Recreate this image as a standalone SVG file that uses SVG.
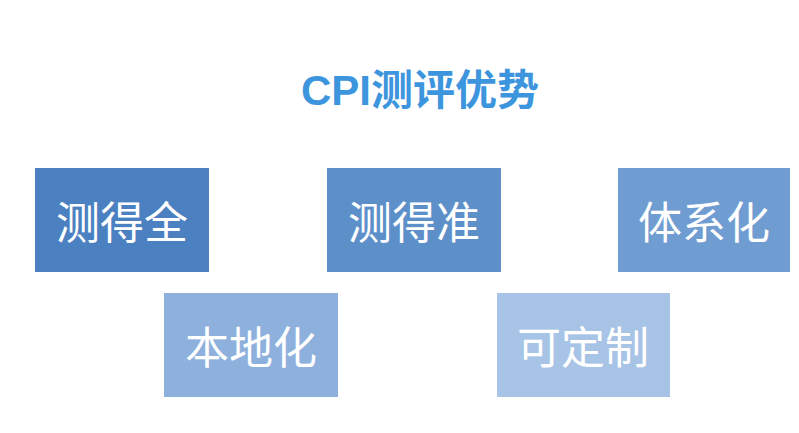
<svg xmlns="http://www.w3.org/2000/svg" width="799" height="433" viewBox="0 0 799 433">
<style>
.t{font-family:"Noto Sans CJK SC","Liberation Sans",sans-serif;fill:#fff;font-size:44px;text-anchor:middle;dominant-baseline:central}
</style>
<rect width="799" height="433" fill="#fff"/>
<text x="420" y="90" font-family="'Liberation Sans','Noto Sans CJK SC',sans-serif" font-weight="bold" font-size="42" fill="#3d96dd" text-anchor="middle" dominant-baseline="central">CPI测评优势</text>
<g id="n1"><rect x="35" y="168" width="174" height="104" fill="#4b80c1"/><text class="t" x="122" y="220">测得全</text></g>
<g id="n2"><rect x="327" y="168" width="174" height="104" fill="#5d8fc9"/><text class="t" x="414" y="220">测得准</text></g>
<g id="n3"><rect x="618" y="168" width="172" height="104" fill="#6f9cd1"/><text class="t" x="704" y="220">体系化</text></g>
<g id="n4"><rect x="164" y="293" width="174" height="104" fill="#8eb0dc"/><text class="t" x="251" y="345">本地化</text></g>
<g id="n5"><rect x="497" y="293" width="173" height="104" fill="#a7c3e6"/><text class="t" x="583" y="345">可定制</text></g>
<g id="connectors"/>
</svg>
